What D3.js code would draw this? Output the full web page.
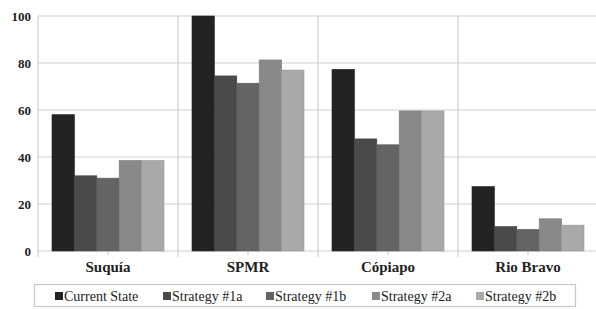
<!DOCTYPE html>
<html lang="en">
<head>
<meta charset="UTF-8">
<title>Strategies by basin</title>
<script src="https://d3js.org/d3.v7.min.js"></script>
<style>
  body { margin: 0; background: #fff; }
</style>
</head>
<body>
<div id="chart"></div>
<script>
const basins = ["Suquía", "SPMR", "Cópiapo", "Rio Bravo"];
const strategies = ["Current State", "Strategy #1a", "Strategy #1b", "Strategy #2a", "Strategy #2b"];
const currentState = [58, 100, 77.3, 27.4];
const strategy1a = [32, 74.5, 47.7, 10.4];
const strategy1b = [31, 71.4, 45.2, 9.2];
const strategy2a = [38.5, 81.3, 59.6, 13.7];
const strategy2b = [38.5, 77, 59.6, 11];
const yTicks = [0, 20, 40, 60, 80, 100];
const colors = ["#232323", "#4a4a4a", "#646464", "#898989", "#a9a9a9"];

const seriesValues = [currentState, strategy1a, strategy1b, strategy2a, strategy2b];
const serif = "'Liberation Serif', 'Times New Roman', Times, 'DejaVu Serif', serif";

const W = 596, H = 309;
const margin = { top: 16, right: -2, bottom: 58, left: 38 };
const width = W - margin.left - margin.right;
const height = H - margin.top - margin.bottom;

const svg = d3.select("#chart").append("svg")
  .attr("width", W).attr("height", H)
  .style("font-family", serif);
const g = svg.append("g")
  .attr("transform", `translate(${margin.left},${margin.top})`);

const x0 = d3.scaleBand().domain(basins).range([0, width]);
// bar groups fill the middle 80% of each basin band
const x1 = d3.scaleBand().domain(strategies)
  .range([x0.bandwidth() * 0.1, x0.bandwidth() * 0.9]);
const y = d3.scaleLinear().domain([0, 100]).range([height, 0]);

// horizontal gridlines
g.append("g").selectAll("line")
  .data(yTicks)
  .join("line")
  .attr("x1", 0).attr("x2", width)
  .attr("y1", d => y(d)).attr("y2", d => y(d))
  .attr("stroke", "#cfcfcf").attr("stroke-width", 1.2);

// vertical separators between basins
g.append("g").selectAll("line")
  .data(basins)
  .join("line")
  .attr("x1", d => x0(d)).attr("x2", d => x0(d))
  .attr("y1", 0).attr("y2", height + 6)
  .attr("stroke", "#cfcfcf").attr("stroke-width", 1.2);

// small center ticks
g.append("g").selectAll("line")
  .data(basins)
  .join("line")
  .attr("x1", d => x0(d) + x0.bandwidth() / 2).attr("x2", d => x0(d) + x0.bandwidth() / 2)
  .attr("y1", height).attr("y2", height + 4)
  .attr("stroke", "#cfcfcf").attr("stroke-width", 1.2);

// bars
const groups = g.append("g").selectAll("g")
  .data(basins)
  .join("g")
  .attr("transform", d => `translate(${x0(d)},0)`);

groups.selectAll("rect")
  .data((b, bi) => strategies.map((s, si) => ({ s, si, v: seriesValues[si][bi] })))
  .join("rect")
  .attr("x", d => x1(d.s))
  .attr("width", x1.bandwidth())
  .attr("y", d => y(d.v))
  .attr("height", d => y(0) - y(d.v))
  .attr("fill", d => colors[d.si])
  .attr("stroke", d => d3.color(colors[d.si]).darker(0.3))
  .attr("stroke-width", 0.6);

// y axis labels
const yAxis = g.append("g")
  .call(d3.axisLeft(y).tickValues(yTicks).tickSize(0).tickPadding(7));
yAxis.select(".domain").remove();
yAxis.selectAll("text")
  .style("font-family", serif)
  .style("font-weight", "bold")
  .style("font-size", "13px")
  .attr("fill", "#222");

// category labels
const xAxis = g.append("g")
  .attr("transform", `translate(0,${height})`)
  .call(d3.axisBottom(x0).tickSize(0).tickPadding(10));
xAxis.select(".domain").remove();
xAxis.selectAll("text")
  .style("font-family", serif)
  .style("font-weight", "bold")
  .style("font-size", "15px")
  .attr("fill", "#222");

// legend
const legend = svg.append("g");
legend.append("rect")
  .attr("x", 34.5).attr("y", 284.5)
  .attr("width", 541).attr("height", 22)
  .attr("fill", "#fff").attr("stroke", "#c8c8c8").attr("stroke-width", 1.2);

const legendX = [55, 163, 266, 372, 476];
const items = legend.selectAll("g.item")
  .data(strategies)
  .join("g")
  .attr("class", "item")
  .attr("transform", (d, i) => `translate(${legendX[i]},296)`);
items.append("rect")
  .attr("x", 0).attr("y", -4).attr("width", 8).attr("height", 8)
  .attr("fill", (d, i) => colors[i]);
items.append("text")
  .attr("x", 9).attr("y", 5)
  .style("font-family", serif)
  .style("font-size", "14px")
  .attr("fill", "#222")
  .text(d => d);
</script>
</body>
</html>
